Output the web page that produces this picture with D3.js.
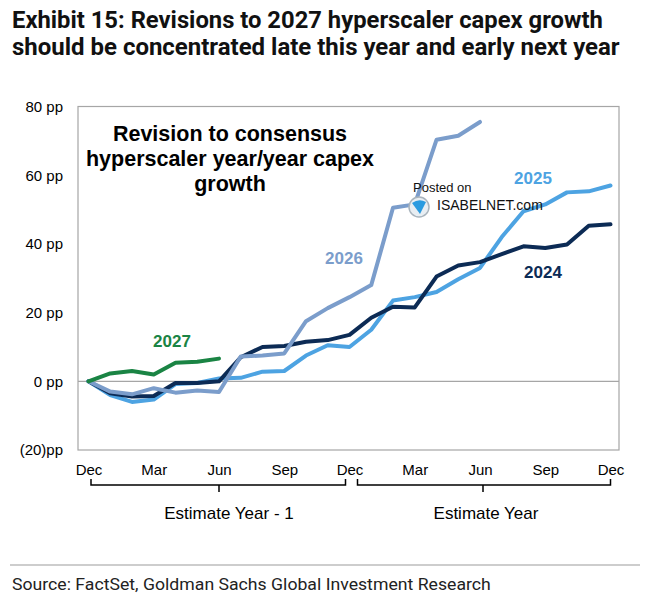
<!DOCTYPE html>
<html>
<head>
<meta charset="utf-8">
<script src="https://cdn.jsdelivr.net/npm/d3@7"></script>
<style>
  body { margin: 0; background: #fff; }
  svg { display: block; }
</style>
</head>
<body>
<div id="chart"></div>
<script>
// month index 0 = Dec before estimate year - 1, 24 = Dec of estimate year
const tickMonths = [0, 3, 6, 9, 12, 15, 18, 21, 24];
const tickLabels = ["Dec", "Mar", "Jun", "Sep", "Dec", "Mar", "Jun", "Sep", "Dec"];
const yTicks = [-20, 0, 20, 40, 60, 80];
const yLabels = ["(20)pp", "0 pp", "20 pp", "40 pp", "60 pp", "80 pp"];

const s2024 = [0, -3.5, -4.4, -4.3, -0.5, -0.5, 0, 7, 10, 10.3, 11.5, 12, 13.5,
  18.5, 21.7, 21.5, 30.5, 33.7, 34.7, 37, 39.3, 38.8, 39.8, 45.3, 45.7];
const s2025 = [0, -4, -6, -5.3, -0.8, -0.5, 0.8, 1, 2.8, 3, 7.5, 10.5, 10,
  15, 23.5, 24.5, 26, 29.7, 33, 42, 49.5, 51.5, 55, 55.3, 57];
const s2026 = [0, -3, -3.8, -2, -3.3, -2.7, -3.1, 7.2, 7.5, 8.1, 17.5, 21.3, 24.5,
  28, 50.5, 51.5, 70.3, 71.5, 75.5];
const s2027 = [0, 2.3, 3, 2, 5.4, 5.7, 6.6];

const series = [
  {name: "2025", values: s2025, color: "#4da3e2"},
  {name: "2024", values: s2024, color: "#0c2b55"},
  {name: "2026", values: s2026, color: "#7b9dcb"},
  {name: "2027", values: s2027, color: "#1a8444"}
];

const width = 650, height = 600;
const plot = {left: 78, right: 619, top: 106.5, bottom: 450};

const svg = d3.select("#chart").append("svg")
    .attr("width", width)
    .attr("height", height);

// stretch/squeeze a text horizontally so it spans the given width
function fitWidth(sel, x0, target) {
  const w = sel.node().getComputedTextLength();
  const k = target / w;
  sel.attr("x", 0).attr("transform", `translate(${x0},${sel.attr("y")}) scale(${k},1)`)
    .attr("y", 0);
}

// title
const title = svg.append("g")
    .attr("font-family", "Roboto, sans-serif")
    .attr("font-weight", 700)
    .attr("font-size", 23)
    .attr("fill", "#111");
const t1 = title.append("text").attr("y", 28)
    .text("Exhibit 15: Revisions to 2027 hyperscaler capex growth");
const t2 = title.append("text").attr("y", 54.5)
    .text("should be concentrated late this year and early next year");
fitWidth(t1, 12, 591);
fitWidth(t2, 12, 608);

// scales
const x = d3.scaleLinear().domain([0, 24]).range([88.5, 610.5]);
const y = d3.scaleLinear().domain([-20, 80]).range([plot.bottom, plot.top]);

// frame
svg.append("rect")
    .attr("x", plot.left).attr("y", plot.top)
    .attr("width", plot.right - plot.left).attr("height", plot.bottom - plot.top)
    .attr("fill", "none").attr("stroke", "#a6a6a6").attr("stroke-width", 1.2);

svg.append("line")
    .attr("x1", plot.left).attr("x2", plot.right)
    .attr("y1", y(0)).attr("y2", y(0))
    .attr("stroke", "#a6a6a6").attr("stroke-width", 1.2);

// axes
svg.append("g")
    .attr("transform", "translate(63,0)")
    .call(d3.axisLeft(y).tickValues(yTicks).tickSize(0).tickPadding(0)
      .tickFormat((d, i) => yLabels[i]))
    .call(g => g.select(".domain").remove())
    .call(g => g.selectAll("text")
      .attr("font-family", "'Liberation Sans', Arial, sans-serif")
      .attr("font-size", 15).attr("fill", "#000"));

svg.append("g")
    .attr("transform", `translate(0,${plot.bottom})`)
    .call(d3.axisBottom(x).tickValues(tickMonths).tickSize(0).tickPadding(14)
      .tickFormat((d, i) => tickLabels[i]))
    .call(g => g.select(".domain").remove())
    .call(g => g.selectAll("text")
      .attr("font-family", "'Liberation Sans', Arial, sans-serif")
      .attr("font-size", 15).attr("fill", "#000"));

// brackets under the x axis
const brackets = [
  {x0: x(0) + 2.5, x1: x(12) - 4, mid: x(6), label: "Estimate Year - 1", lx: x(6) + 10},
  {x0: x(12) + 8, x1: x(24), mid: x(18) + 3, label: "Estimate Year", lx: x(18) + 6}
];
const br = svg.append("g");
br.selectAll("path")
  .data(brackets)
  .join("path")
    .attr("d", d => `M${d.x0},479V485H${d.x1}V479M${d.mid},485V492`)
    .attr("fill", "none").attr("stroke", "#000").attr("stroke-width", 1.5);
br.selectAll("text")
  .data(brackets)
  .join("text")
    .attr("x", d => d.lx).attr("y", 519)
    .attr("text-anchor", "middle")
    .attr("font-family", "'Liberation Sans', Arial, sans-serif")
    .attr("font-size", 17)
    .text(d => d.label);

// lines
const line = d3.line().x((d, i) => x(i)).y(d => y(d));
svg.append("g").selectAll("path")
  .data(series)
  .join("path")
    .attr("d", d => line(d.values))
    .attr("fill", "none")
    .attr("stroke", d => d.color)
    .attr("stroke-width", 4)
    .attr("stroke-linejoin", "round")
    .attr("stroke-linecap", "round");

// series labels
const labelPos = {"2027": [172, 347], "2026": [344, 264], "2025": [533, 184], "2024": [543, 278]};
svg.append("g").selectAll("text")
  .data(series)
  .join("text")
    .attr("x", d => labelPos[d.name][0])
    .attr("y", d => labelPos[d.name][1])
    .attr("text-anchor", "middle")
    .attr("font-family", "'Liberation Sans', Arial, sans-serif")
    .attr("font-weight", 700)
    .attr("font-size", 17)
    .attr("fill", d => d.color)
    .text(d => d.name);

// inset title
const inset = svg.append("text")
    .attr("text-anchor", "middle")
    .attr("font-family", "'Liberation Sans', Arial, sans-serif")
    .attr("font-weight", 700)
    .attr("font-size", 21.5)
    .attr("fill", "#000");
["Revision to consensus", "hyperscaler year/year capex", "growth"].forEach((t, i) => {
  inset.append("tspan").attr("x", 230).attr("y", 141 + i * 25).text(t);
});

// watermark
const wm = svg.append("g")
    .attr("font-family", "'Liberation Sans', Arial, sans-serif")
    .attr("fill", "#111");
wm.append("text").attr("x", 413).attr("y", 192).attr("font-size", 13).text("Posted on");
wm.append("text").attr("x", 437).attr("y", 210).attr("font-size", 14).text("ISABELNET.com");
wm.append("circle").attr("cx", 419).attr("cy", 207).attr("r", 10)
    .attr("fill", "#e8eef3").attr("stroke", "#a9b4bd").attr("stroke-width", 1.5);
wm.append("path").attr("d", "M412,203 Q419,198 426,202 L420,214 Z").attr("fill", "#2a9be0");

// footer
svg.append("line")
    .attr("x1", 10).attr("x2", 640).attr("y1", 565).attr("y2", 565)
    .attr("stroke", "#bdbdbd").attr("stroke-width", 1.5);
const src = svg.append("text")
    .attr("y", 590)
    .attr("font-family", "Roboto, sans-serif")
    .attr("font-size", 17)
    .attr("fill", "#222")
    .text("Source: FactSet, Goldman Sachs Global Investment Research");
fitWidth(src, 12, 479);
</script>
</body>
</html>
